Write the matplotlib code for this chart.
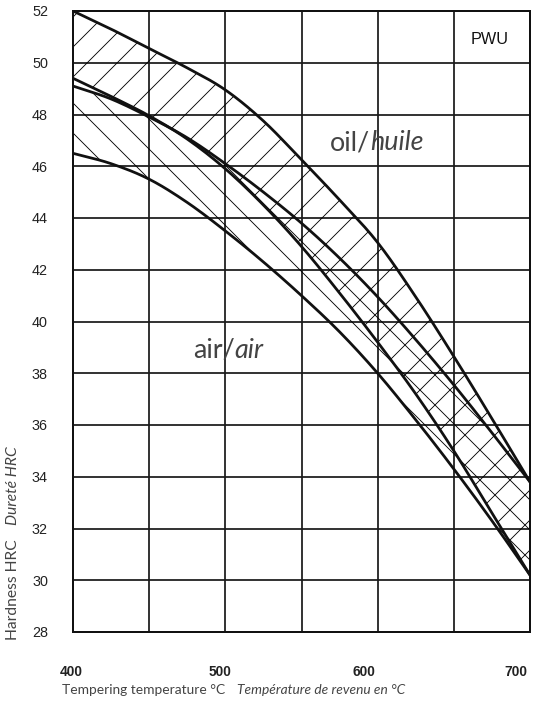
import matplotlib
matplotlib.use("Agg")
import matplotlib.pyplot as plt
import matplotlib.transforms as mtransforms
import numpy as np

# ---- data ----
temps = [400, 425, 450, 475, 500, 525, 550, 575, 600, 625, 650, 675, 700]
oil_upper = [52.0, 51.3, 50.55, 49.8, 48.95, 47.75, 46.25, 44.7, 43.05, 40.95, 38.65, 36.25, 33.8]
oil_lower = [49.4, 48.7, 47.95, 47.05, 45.9, 44.5, 42.9, 41.1, 39.2, 37.2, 35.0, 32.6, 30.2]
air_upper = [49.1, 48.6, 47.9, 47.1, 46.1, 45.0, 43.8, 42.45, 40.95, 39.3, 37.55, 35.7, 33.8]
air_lower = [46.5, 46.1, 45.5, 44.6, 43.5, 42.3, 41.0, 39.6, 38.0, 36.2, 34.3, 32.3, 30.2]

x_ticks = [400, 500, 600, 700]
x_grid = [400, 450, 500, 550, 600, 650, 700]
y_ticks = [28, 30, 32, 34, 36, 38, 40, 42, 44, 46, 48, 50, 52]


def smooth(xs, ys, n=12):
    """Catmull-Rom rendering of the read-off points (passes through every point)."""
    xs = np.asarray(xs, float)
    ys = np.asarray(ys, float)
    px = np.concatenate([[2 * xs[0] - xs[1]], xs, [2 * xs[-1] - xs[-2]]])
    py = np.concatenate([[2 * ys[0] - ys[1]], ys, [2 * ys[-1] - ys[-2]]])
    outx, outy = [], []
    t = np.linspace(0, 1, n, endpoint=False)
    for i in range(1, len(px) - 2):
        for arr, out in ((px, outx), (py, outy)):
            p0, p1, p2, p3 = arr[i - 1], arr[i], arr[i + 1], arr[i + 2]
            out.extend(0.5 * ((2 * p1) + (-p0 + p2) * t +
                              (2 * p0 - 5 * p1 + 4 * p2 - p3) * t ** 2 +
                              (-p0 + 3 * p1 - 3 * p2 + p3) * t ** 3))
    outx.append(xs[-1])
    outy.append(ys[-1])
    return np.array(outx), np.array(outy)


DPI = 90
W, H = 545, 703
plt.rcParams['hatch.linewidth'] = 0.7
plt.rcParams['hatch.color'] = 'black'

fig = plt.figure(figsize=(W / DPI, H / DPI), dpi=DPI)
ax = fig.add_axes([73 / W, 1 - 632 / H, (530 - 73) / W, (632 - 11) / H])
ax.set_xlim(400, 700)
ax.set_ylim(28, 52)

# grid
for gx in x_grid:
    ax.axvline(gx, color='#1a1a1a', lw=1.4, zorder=1)
for gy in y_ticks:
    ax.axhline(gy, color='#1a1a1a', lw=1.4, zorder=1)

sx, ou = smooth(temps, oil_upper)
_, ol = smooth(temps, oil_lower)
_, au = smooth(temps, air_upper)
_, al = smooth(temps, air_lower)

# hatched bands
ax.fill_between(sx, ol, ou, facecolor='none', edgecolor='black',
                hatch='/', linewidth=0, zorder=2)
ax.fill_between(sx, al, au, facecolor='none', edgecolor='black',
                hatch='\\', linewidth=0, zorder=2)

# boundary curves
for ys in (ou, ol, au, al):
    ax.plot(sx, ys, color='#111111', lw=2.2, solid_capstyle='round',
            solid_joinstyle='round', zorder=3)

for s in ax.spines.values():
    s.set_linewidth(1.6)
    s.set_color('#111111')

ax.set_xticks(x_ticks)
ax.set_yticks(y_ticks)
ax.set_xticklabels([str(v) for v in x_ticks], fontfamily='Liberation Sans',
                   fontweight='bold', fontsize=11, color='#222222')
ax.set_yticklabels([str(v) for v in y_ticks], fontfamily='Liberation Sans',
                   fontsize=11.5, color='#222222')
ax.tick_params(axis='x', length=0, pad=26)
ax.tick_params(axis='y', length=0, pad=20)

# small leftward shifts of the x tick labels, as printed in the original
label_shift_px = [-2, -5, -14, -14]
for lab, dx in zip(ax.get_xticklabels(), label_shift_px):
    lab.set_transform(lab.get_transform() +
                      mtransforms.ScaledTranslation(dx / DPI, 0, fig.dpi_scale_trans))

light = dict(family=['Lato', 'DejaVu Sans'], weight='normal', color='#444444')

renderer = fig.canvas.get_renderer()


def two_part(x_px, y_px, first, second, size, gap=0):
    t1 = fig.text(x_px / W, 1 - y_px / H, first, ha='left', va='center',
                  fontsize=size, **light)
    bb = t1.get_window_extent(renderer)
    fig.text((bb.x1 + gap) / W, 1 - y_px / H, second, ha='left', va='center',
             fontsize=size, style='italic', **light)


def two_part_vertical(x_px, y_px, first, second, size, gap=0):
    t1 = fig.text(x_px / W, 1 - y_px / H, first, rotation=90, ha='center', va='bottom',
                  fontsize=size, **light)
    bb = t1.get_window_extent(renderer)
    fig.text(x_px / W, (bb.y1 + gap) / H, second, rotation=90, ha='center', va='bottom',
             fontsize=size, style='italic', **light)


# in-plot labels
fig.text(490 / W, 1 - 40 / H, 'PWU', ha='center', va='center',
         fontsize=13, family='Liberation Sans', color='#111111')
two_part(330, 143, 'oil/', 'huile', 21.5)
two_part(193, 350, 'air/', 'air', 21.5)

# axis titles
two_part(62, 690, 'Tempering temperature °C', 'Température de revenu en °C', 11, gap=12)
two_part_vertical(13, 640, 'Hardness HRC', 'Dureté HRC', 12.5, gap=14)

fig.savefig('out.png', dpi=DPI, facecolor='white')
